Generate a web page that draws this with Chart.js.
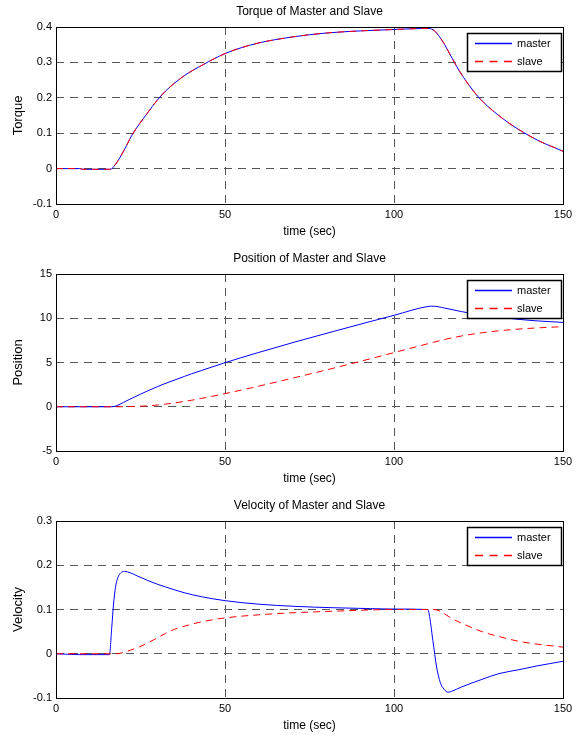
<!DOCTYPE html>
<html>
<head>
<meta charset="utf-8">
<script src="https://cdn.jsdelivr.net/npm/chart.js@4.4.1/dist/chart.umd.min.js"></script>
<style>
  html, body { margin: 0; padding: 0; background: #fff; overflow: hidden; }
  .panel { position: absolute; left: 0; width: 580px; height: 247px; }
</style>
</head>
<body>
<div class="panel" style="top:0"><canvas id="torque" width="580" height="247"></canvas></div>
<div class="panel" style="top:247px"><canvas id="position" width="580" height="247"></canvas></div>
<div class="panel" style="top:494px"><canvas id="velocity" width="580" height="247"></canvas></div>
<script>
// torque panel (master and slave lie on top of each other)
const torqueTime   = [0, 7, 8, 16, 17.6, 20.3, 22.5, 26.9, 30.2, 32.4, 37.9, 43.4, 50, 55, 60, 70, 80, 90, 100, 110.4, 112, 113.5, 115, 117, 119.2, 122, 124.7, 127.5, 130.2, 133.5, 136.8, 140, 142.3, 145, 147.8, 150];
const torqueMaster = [0, 0, -0.002, -0.002, 0.012, 0.055, 0.095, 0.155, 0.196, 0.219, 0.262, 0.293, 0.325, 0.342, 0.355, 0.372, 0.383, 0.389, 0.393, 0.396, 0.389, 0.372, 0.35, 0.315, 0.278, 0.238, 0.205, 0.178, 0.156, 0.132, 0.111, 0.093, 0.081, 0.069, 0.058, 0.049];
const torqueSlave  = [0, 0, -0.002, -0.002, 0.012, 0.055, 0.095, 0.155, 0.196, 0.219, 0.262, 0.293, 0.325, 0.342, 0.355, 0.372, 0.383, 0.389, 0.393, 0.396, 0.389, 0.372, 0.35, 0.315, 0.278, 0.238, 0.205, 0.178, 0.156, 0.132, 0.111, 0.093, 0.081, 0.069, 0.058, 0.049];

// position panel
const positionTime   = [0, 16.5, 18, 20, 22.5, 25, 27, 30, 32, 38, 40, 43, 50, 60, 71, 82, 93, 100, 110, 111.5, 115, 120, 126, 131, 137, 142, 150];
const positionMaster = [0, 0, 0.12, 0.5, 0.97, 1.42, 1.77, 2.27, 2.58, 3.43, 3.71, 4.09, 4.98, 6.14, 7.35, 8.5, 9.63, 10.33, 11.33, 11.36, 11.15, 10.75, 10.37, 10.12, 9.87, 9.71, 9.53];
const positionSlave  = [0, 0, 0, 0.005, 0.03, 0.06, 0.1, 0.2, 0.28, 0.6, 0.73, 0.94, 1.48, 2.33, 3.32, 4.35, 5.42, 6.12, 7.12, 7.27, 7.6, 8.0, 8.36, 8.58, 8.78, 8.9, 9.05];

// velocity panel
const velocityMasterTime = [0, 7, 15.8, 16.5, 17, 17.6, 18.3, 19.2, 20.3, 22, 24, 27, 30, 32.4, 37.9, 43, 50, 60, 71, 82, 93, 100, 110, 110.4, 111.5, 112.6, 113.7, 114.8, 116, 117, 120, 126, 131, 137, 142, 150];
const velocityMaster     = [0, -0.002, -0.002, 0.06, 0.11, 0.15, 0.172, 0.183, 0.186, 0.183, 0.176, 0.166, 0.157, 0.151, 0.138, 0.129, 0.12, 0.112, 0.107, 0.104, 0.102, 0.101, 0.1, 0.09, 0.03, -0.03, -0.065, -0.08, -0.087, -0.085, -0.075, -0.058, -0.045, -0.036, -0.028, -0.017];
const velocitySlaveTime  = [0, 18, 20, 22, 24.5, 27, 30, 32.4, 35, 37.9, 43, 50, 60, 71, 82, 93, 100, 110, 111.5, 112.6, 113.7, 114.8, 116, 117, 120, 126, 131, 137, 142, 150];
const velocitySlave      = [0, 0, 0.003, 0.008, 0.015, 0.024, 0.036, 0.046, 0.055, 0.062, 0.072, 0.081, 0.088, 0.093, 0.096, 0.099, 0.1, 0.1, 0.1, 0.099, 0.096, 0.091, 0.085, 0.08, 0.069, 0.05, 0.039, 0.028, 0.022, 0.015];

const timeTicks = [0, 50, 100, 150];
const seriesLabels = ['master', 'slave'];
const seriesColors = ['rgb(0, 0, 255)', 'rgb(255, 0, 0)'];
const seriesDashes = [[], [7, 5]];
const legendDashes = [[], [8, 6.5]];

Chart.defaults.font.family = '"Liberation Sans", Arial, sans-serif';
Chart.defaults.color = '#000';

// box round the plot, title over it and a legend inside the top right corner
const matlabFrame = {
    id: 'matlabFrame',
    afterDraw(chart, args, opts) {
        const ctx = chart.ctx;
        const a = chart.chartArea;
        const w = 94, h = 38;
        const x = Math.round(a.right) - 2 - w;
        const y = Math.round(a.top) + 6;

        ctx.save();
        ctx.setLineDash([]);

        // legend background and sample lines
        ctx.fillStyle = '#fff';
        ctx.fillRect(x, y, w, h);
        seriesLabels.forEach((label, i) => {
            const ly = y + 10.5 + i * 18;
            ctx.beginPath();
            ctx.strokeStyle = seriesColors[i];
            ctx.lineWidth = 1.3;
            ctx.setLineDash(legendDashes[i]);
            ctx.moveTo(x + 8, ly);
            ctx.lineTo(x + 45, ly);
            ctx.stroke();
        });
        ctx.setLineDash([]);

        // borders
        ctx.beginPath();
        ctx.strokeStyle = '#000';
        ctx.lineWidth = 1.5;
        ctx.strokeRect(x + 0.5, y + 0.5, w, h);
        ctx.lineWidth = 1;
        ctx.strokeRect(Math.round(a.left) + 0.5, Math.round(a.top) + 0.5,
            Math.round(a.right - a.left), Math.round(a.bottom - a.top));

        // texts
        ctx.fillStyle = '#000';
        ctx.textBaseline = 'middle';
        ctx.font = '12px "Liberation Sans", Arial, sans-serif';
        ctx.textAlign = 'center';
        ctx.fillText(opts.title, (a.left + a.right) / 2, a.top - 15);
        ctx.font = '11px "Liberation Sans", Arial, sans-serif';
        ctx.textAlign = 'left';
        seriesLabels.forEach((label, i) => {
            ctx.fillText(label, x + 50, y + 10.5 + i * 18);
        });
        ctx.restore();
    }
};

function toPoints(xs, ys) {
    return xs.map((t, i) => ({ x: t, y: ys[i] }));
}

function makeChart(id, title, yLabel, masterTime, master, slaveTime, slave, yMin, yMax, yStep) {
    new Chart(document.getElementById(id), {
        type: 'line',
        data: {
            datasets: [
                {
                    label: seriesLabels[0],
                    data: toPoints(masterTime, master),
                    borderColor: seriesColors[0],
                    borderDash: seriesDashes[0],
                    borderWidth: 1,
                    pointRadius: 0,
                    order: 2,
                    cubicInterpolationMode: 'monotone'
                },
                {
                    label: seriesLabels[1],
                    data: toPoints(slaveTime, slave),
                    borderColor: seriesColors[1],
                    borderDash: seriesDashes[1],
                    borderWidth: 1,
                    pointRadius: 0,
                    order: 1,
                    cubicInterpolationMode: 'monotone'
                }
            ]
        },
        options: {
            responsive: false,
            animation: false,
            layout: { padding: { top: 27, right: 17, bottom: 0, left: 0 } },
            plugins: {
                legend: { display: false },
                tooltip: { enabled: false },
                matlabFrame: { title: title }
            },
            scales: {
                x: {
                    type: 'linear',
                    min: 0,
                    max: 150,
                    afterFit(scale) { scale.height = 43; },
                    afterBuildTicks(scale) { scale.ticks = timeTicks.map(v => ({ value: v })); },
                    ticks: { font: { size: 11 }, padding: 4, maxRotation: 0 },
                    grid: { color: '#555', drawTicks: false },
                    border: { display: false, dash: [8, 6] },
                    title: { display: true, text: 'time (sec)', font: { size: 12 }, padding: { top: 0, bottom: 8 } }
                },
                y: {
                    min: yMin,
                    max: yMax,
                    afterFit(scale) { scale.width = 56; },
                    ticks: { stepSize: yStep, font: { size: 11 }, padding: 4 },
                    grid: { color: '#555', drawTicks: false },
                    border: { display: false, dash: [8, 6] },
                    title: { display: true, text: yLabel, font: { size: 13 }, padding: { top: 11, bottom: 0 } }
                }
            }
        },
        plugins: [matlabFrame]
    });
}

makeChart('torque', 'Torque of Master and Slave', 'Torque',
    torqueTime, torqueMaster, torqueTime, torqueSlave, -0.1, 0.4, 0.1);
makeChart('position', 'Position of Master and Slave', 'Position',
    positionTime, positionMaster, positionTime, positionSlave, -5, 15, 5);
makeChart('velocity', 'Velocity of Master and Slave', 'Velocity',
    velocityMasterTime, velocityMaster, velocitySlaveTime, velocitySlave, -0.1, 0.3, 0.1);
</script>
</body>
</html>
